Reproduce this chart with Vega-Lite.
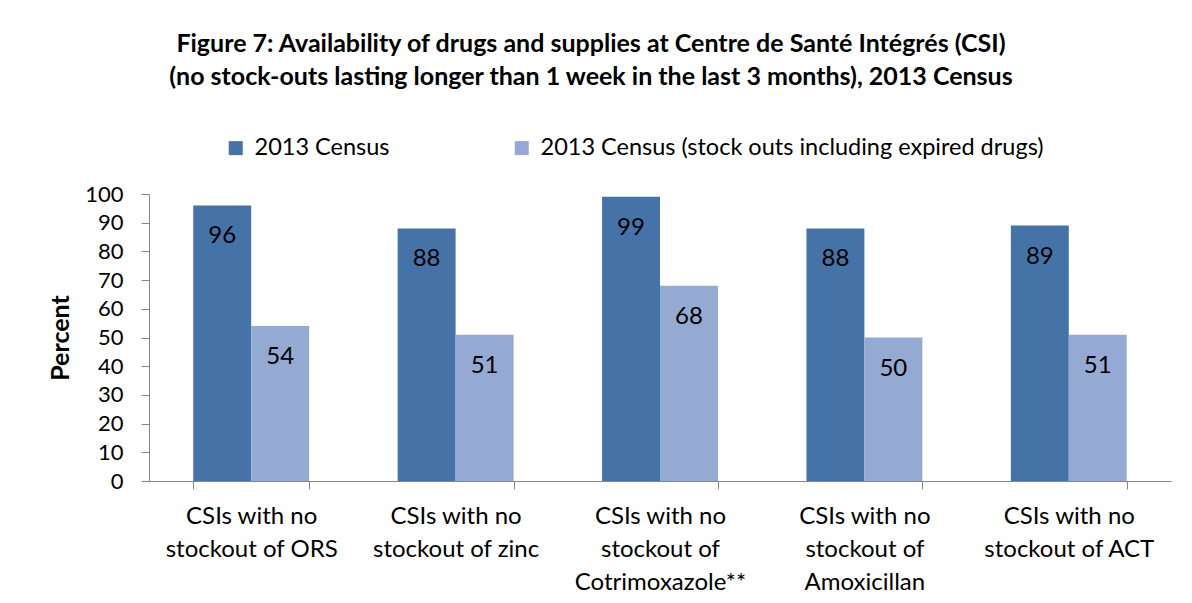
{
  "$schema": "https://vega.github.io/schema/vega-lite/v6.json",
  "width": 1022,
  "height": 287,
  "autosize": "none",
  "padding": {"left": 149, "top": 194, "right": 21, "bottom": 122},
  "background": "white",
  "config": {
    "font": "Lato",
    "view": {"stroke": null},
    "axis": {"domainColor": "#868686", "tickColor": "#868686", "labelColor": "black", "titleColor": "black", "labelFont": "Lato", "titleFont": "Lato"}
  },
  "title": {
    "text": ["Figure 7: Availability of drugs and supplies at Centre de Santé Intégrés (CSI)", "(no stock-outs lasting longer than 1 week in the last 3 months), 2013 Census"],
    "font": "Lato", "fontSize": 25, "fontWeight": "bold", "color": "black",
    "lineHeight": 33, "anchor": "middle", "dx": -69, "offset": 46
  },
  "data": {
    "values": [
      {"cat": "CSIs with no|stockout of ORS", "series": "2013 Census", "value": 96},
      {"cat": "CSIs with no|stockout of ORS", "series": "2013 Census (stock outs including expired drugs)", "value": 54},
      {"cat": "CSIs with no|stockout of zinc", "series": "2013 Census", "value": 88},
      {"cat": "CSIs with no|stockout of zinc", "series": "2013 Census (stock outs including expired drugs)", "value": 51},
      {"cat": "CSIs with no|stockout of|Cotrimoxazole**", "series": "2013 Census", "value": 99},
      {"cat": "CSIs with no|stockout of|Cotrimoxazole**", "series": "2013 Census (stock outs including expired drugs)", "value": 68},
      {"cat": "CSIs with no|stockout of|Amoxicillan", "series": "2013 Census", "value": 88},
      {"cat": "CSIs with no|stockout of|Amoxicillan", "series": "2013 Census (stock outs including expired drugs)", "value": 50},
      {"cat": "CSIs with no|stockout of ACT", "series": "2013 Census", "value": 89},
      {"cat": "CSIs with no|stockout of ACT", "series": "2013 Census (stock outs including expired drugs)", "value": 51}
    ]
  },
  "encoding": {
    "x": {
      "field": "cat", "type": "nominal", "sort": null,
      "scale": {"paddingInner": 0.433, "paddingOuter": 0.2165},
      "axis": {"title": null, "labelAngle": 0, "labelExpr": "datum.value ? split(datum.value, '|') : ''", "labelFontSize": 24, "labelLineHeight": 33, "labelPadding": 15, "tickBand": "extent", "tickSize": 8, "labelBaseline": "top"}
    },
    "xOffset": {"field": "series", "type": "nominal", "scale": {"paddingInner": 0, "paddingOuter": 0}},
    "y": {
      "field": "value", "type": "quantitative",
      "scale": {"domain": [0, 100], "nice": false},
      "axis": {"title": "Percent", "titleFontSize": 25, "titleFontWeight": "bold", "titlePadding": 11, "labelFontSize": 22, "labelPadding": 18, "tickSize": 8, "values": [0,10,20,30,40,50,60,70,80,90,100], "grid": false}
    }
  },
  "layer": [
    {
      "mark": {"type": "bar"},
      "encoding": {
        "color": {
          "field": "series", "type": "nominal",
          "scale": {"range": ["#4573a7", "#94aad2"]},
          "legend": {"title": null, "orient": "none", "legendX": 75, "legendY": -58, "direction": "horizontal", "columns": 2, "padding": 0, "labelFontSize": 23.5, "labelFont": "Lato", "labelColor": "black", "symbolType": "square", "symbolSize": 196, "symbolStrokeWidth": 0, "labelOffset": 7, "columnPadding": 120, "labelLimit": 700}
        }
      }
    },
    {
      "mark": {"type": "text", "baseline": "alphabetic", "dy": 38, "fontSize": 24, "font": "Lato", "color": "black"},
      "encoding": {"text": {"field": "value", "type": "quantitative"}}
    }
  ]
}
